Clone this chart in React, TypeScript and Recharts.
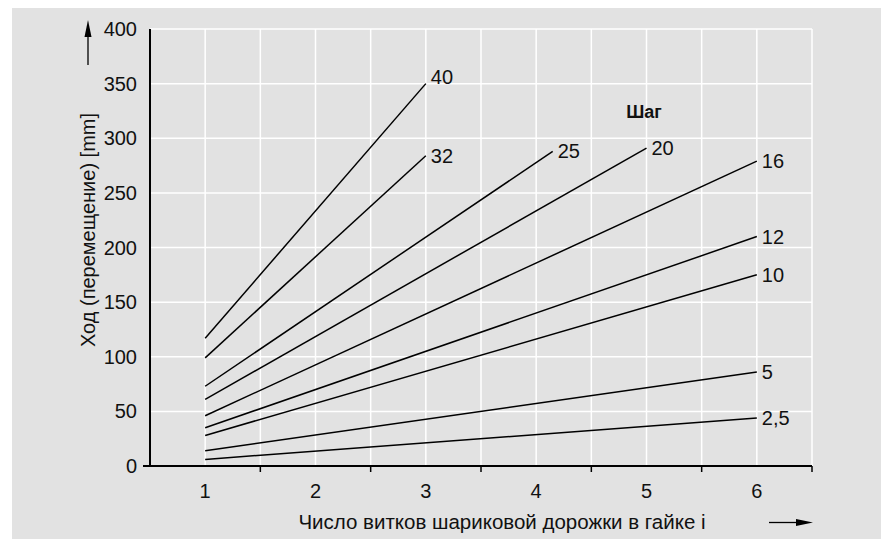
import React from "react";
import { CartesianGrid, Line, LineChart, XAxis, YAxis } from "recharts";

// шаг винта и ход по числу витков
const pitches = ["40", "32", "25", "20", "16", "12", "10", "5", "2,5"];
const startTurns = [1, 1, 1, 1, 1, 1, 1, 1, 1];
const startTravel = [117, 99, 73, 61, 46, 35, 28, 14, 6];
const endTurns = [3, 3, 4.15, 5, 6, 6, 6, 6, 6];
const endTravel = [350, 284, 288, 291, 279, 210, 175, 86, 44];

const turnTicks = [1, 2, 3, 4, 5, 6];
const halfTicks = [1.5, 2.5, 3.5, 4.5, 5.5, 6.5];
const travelTicks = [0, 50, 100, 150, 200, 250, 300, 350, 400];

const xTitle = "Число витков шариковой дорожки в гайке i";
const yTitle = "Ход (перемещение) [mm]";
const legendTitle = "Шаг";

const FONT = "'Liberation Sans', Arial, Helvetica, sans-serif";
const BG = "#e2e2e2";

const series = pitches.map((p, i) => ({
    name: p,
    points: [
        { x: startTurns[i], y: startTravel[i] },
        { x: endTurns[i], y: endTravel[i] },
    ],
}));

const allXTicks = [...turnTicks, ...halfTicks].sort((a, b) => a - b);

function XTick(props: any) {
    const { x, y, payload } = props;
    const v = payload.value;
    if (Number.isInteger(v)) {
        return (
            <text x={x} y={y + 25} textAnchor="middle" dominantBaseline="central"
                fontFamily={FONT} fontSize={20} fill="#111">{v}</text>
        );
    }
    return <line x1={x} x2={x} y1={y} y2={y + 6} stroke="#000" strokeWidth={1.5} />;
}

function YTick(props: any) {
    const { x, y, payload } = props;
    return (
        <g>
            <text x={x} y={y} textAnchor="end" dominantBaseline="central"
                fontFamily={FONT} fontSize={20} fill="#111">{payload.value}</text>
            {payload.value === 0 && (
                <line x1={x + 6} x2={x + 13} y1={y} y2={y} stroke="#000" strokeWidth={2} />
            )}
        </g>
    );
}

// "40" sits a bit higher than its line end
const labelDy: Record<string, number> = { "40": -7 };

function endLabel(name: string, last: number) {
    return (props: any) => {
        if (props.index !== last) return <g />;
        return (
            <text x={props.x + 5} y={props.y + (labelDy[name] || 0)} dominantBaseline="central"
                fontFamily={FONT} fontSize={20} fill="#111">{name}</text>
        );
    };
}

export default function App() {
    return (
        <div style={{ position: "relative", marginLeft: 4, width: 874, height: 531, background: BG }}>
            <LineChart
                width={874}
                height={531}
                margin={{ top: 21, right: 74, bottom: 0, left: 0 }}
            >
                <CartesianGrid stroke="#fff" strokeWidth={1.5} />
                <XAxis
                    type="number"
                    dataKey="x"
                    domain={[0.5, 6.5]}
                    ticks={allXTicks}
                    interval={0}
                    height={73}
                    tickSize={0}
                    tickMargin={0}
                    tickLine={false}
                    tick={<XTick />}
                    axisLine={{ stroke: "#000", strokeWidth: 2 }}
                />
                <YAxis
                    type="number"
                    domain={[0, 400]}
                    ticks={travelTicks}
                    interval={0}
                    width={138}
                    tickSize={0}
                    tickMargin={13}
                    tickLine={false}
                    tick={<YTick />}
                    axisLine={{ stroke: "#000", strokeWidth: 2 }}
                />
                {series.map((s) => (
                    <Line
                        key={s.name}
                        data={s.points}
                        dataKey="y"
                        type="linear"
                        stroke="#000"
                        strokeWidth={1.5}
                        dot={false}
                        isAnimationActive={false}
                        label={endLabel(s.name, s.points.length - 1)}
                    />
                ))}
            </LineChart>
            <svg width={874} height={531} style={{ position: "absolute", left: 0, top: 0, pointerEvents: "none" }}>
                <line x1={76} x2={76} y1={28} y2={57} stroke="#000" strokeWidth={1.3} />
                <polygon points="76,12 72.5,29 79.5,29" fill="#000" />
                <text transform="translate(76,222) rotate(-90)" textAnchor="middle" dominantBaseline="central"
                    fontFamily={FONT} fontSize={20} fill="#111">{yTitle}</text>
                <text x={490} y={513} textAnchor="middle" dominantBaseline="central"
                    fontFamily={FONT} fontSize={20.5} fill="#111">{xTitle}</text>
                <line x1={757} x2={786} y1={514.5} y2={514.5} stroke="#000" strokeWidth={1.3} />
                <polygon points="801,514.5 784,511 784,518" fill="#000" />
                <text x={632} y={104} textAnchor="middle" dominantBaseline="central"
                    fontFamily={FONT} fontSize={18} fontWeight="bold" fill="#111">{legendTitle}</text>
            </svg>
        </div>
    );
}
